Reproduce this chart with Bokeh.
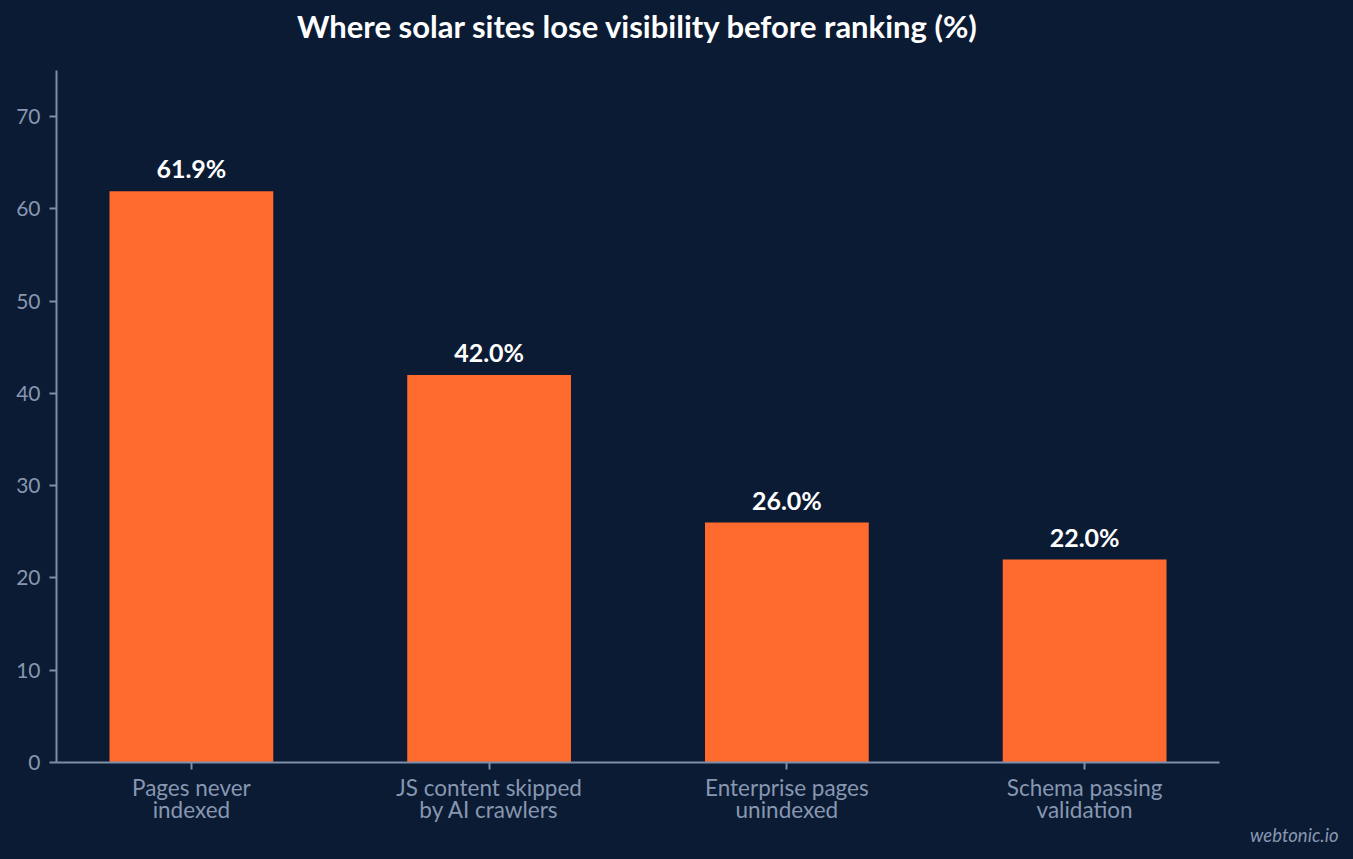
from bokeh.plotting import figure
from bokeh.models import ColumnDataSource, FactorRange, Range1d, LabelSet, Title, FixedTicker
from bokeh.core.properties import value
from bokeh.embed import file_html
from bokeh.resources import INLINE

categories = ["Pages never\nindexed", "JS content skipped\nby AI crawlers",
              "Enterprise pages\nunindexed", "Schema passing\nvalidation"]
values = [61.9, 42.0, 26.0, 22.0]
value_labels = ["61.9%", "42.0%", "26.0%", "22.0%"]
y_ticks = [0, 10, 20, 30, 40, 50, 60, 70]
title_text = "Where solar sites lose visibility before ranking (%)"

BG = "#0b1b33"
BAR = "#ff6b2e"
AXIS = "#7f8ea8"
TICKTXT = "#8797b1"
FONT = "Lato"

src = ColumnDataSource(dict(cat=categories, val=values, lab=value_labels))

p = figure(width=1353, height=859, output_backend="svg", toolbar_location=None,
           title=None,
           x_range=FactorRange(factors=categories, range_padding=-0.0235),
           y_range=Range1d(0, 75),
           min_border_left=56, min_border_right=134, min_border_top=70, min_border_bottom=97)

p.background_fill_color = BG
p.border_fill_color = BG
p.outline_line_color = None
p.grid.grid_line_color = None

# spacer nearest the frame, then the real title above it
spacer = Title(text=" ", text_font=FONT, text_font_size="10px", standoff=6,
               text_color=BG)
p.add_layout(spacer, "above")
ttl = Title(text=title_text, text_font=FONT, text_font_size="31px", text_font_style="bold",
            text_color="#ffffff", align="center", vertical_align="top", standoff=8)
p.add_layout(ttl, "above")

p.vbar(x="cat", top="val", width=0.55, source=src, fill_color=BAR, line_color=None)

p.add_layout(LabelSet(x="cat", y="val", text="lab", source=src, y_offset=13,
                      text_align="center", text_baseline="alphabetic",
                      text_font=value(FONT), text_color="#ffffff",
                      text_font_size="25px", text_font_style="bold"))

for ax in (p.xaxis[0], p.yaxis[0]):
    ax.axis_line_color = AXIS
    ax.axis_line_width = 2
    ax.major_tick_line_color = AXIS
    ax.major_tick_line_width = 2
    ax.minor_tick_line_color = None
    ax.major_tick_in = 0
    ax.major_tick_out = 7
    ax.major_label_text_font = FONT
    ax.major_label_text_color = TICKTXT

p.yaxis.ticker = FixedTicker(ticks=y_ticks)
p.yaxis.major_label_text_font_size = "21px"
p.yaxis.major_label_standoff = 9
p.xaxis.major_label_text_font_size = "22.5px"
p.xaxis.major_label_text_line_height = 0.85
p.xaxis.major_label_standoff = 4

wm = Title(text="webtonic.io", align="right", offset=-119, standoff=-6, vertical_align="top",
           text_font=FONT, text_font_style="italic", text_font_size="18.5px",
           text_color=TICKTXT)
p.add_layout(wm, "below")

html = file_html(p, INLINE)
html = html.replace("<head>", "<head><style>html,body{background:%s;margin:0;overflow:hidden;}</style>" % BG, 1)
open("out.html", "w").write(html)
